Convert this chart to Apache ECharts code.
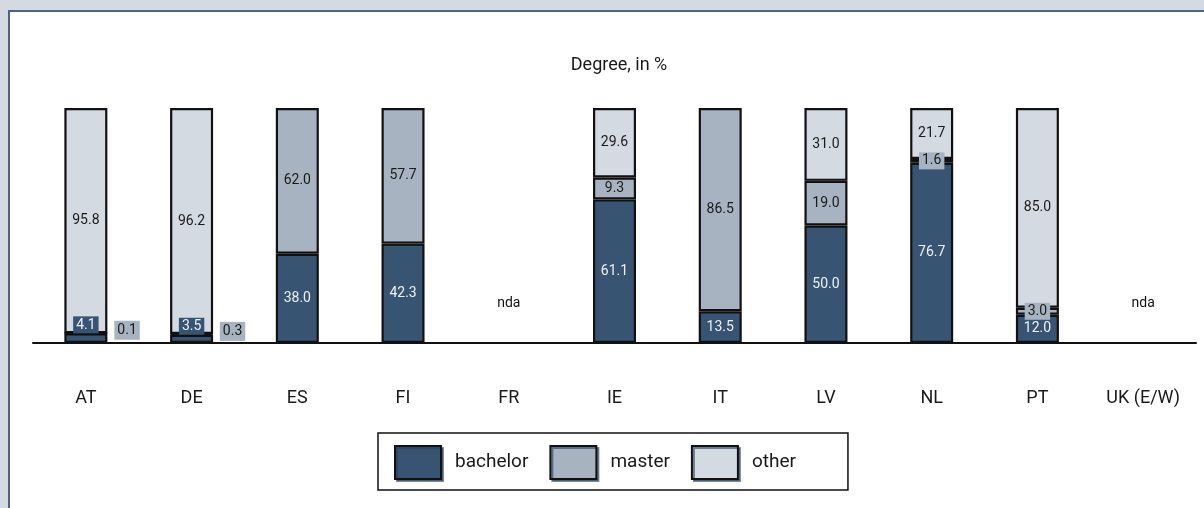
<!DOCTYPE html>
<html>
<head>
<meta charset="utf-8">
<script src="https://cdn.jsdelivr.net/npm/echarts@6/dist/echarts.min.js"></script>
<style>
  html, body { margin: 0; padding: 0; background: #d3dae2; }
  #panel { position: absolute; left: 8px; top: 10px; width: 1196px; height: 498px;
           background: #fff; border-left: 2px solid #4a6484; border-top: 2px solid #4a6484; box-sizing: border-box; }
  #chart { position: absolute; left: 0; top: 0; width: 1204px; height: 508px; }
</style>
</head>
<body>
<div id="panel"></div>
<div id="chart"></div>
<script>
const countries = ['AT', 'DE', 'ES', 'FI', 'FR', 'IE', 'IT', 'LV', 'NL', 'PT', 'UK (E/W)'];
const bachelor = [4.1, 3.5, 38.0, 42.3, null, 61.1, 13.5, 50.0, 76.7, 12.0, null];
const master   = [0.1, 0.3, 62.0, 57.7, null, 9.3, 86.5, 19.0, 1.6, 3.0, null];
const other    = [95.8, 96.2, null, null, null, 29.6, null, 31.0, 21.7, 85.0, null];
// countries without data get an "nda" note
const noData = ['FR', 'UK (E/W)'];
const ndaLevel = 16.6;

const FONT = "Roboto, 'Liberation Sans Narrow', sans-serif";
const colors = { bachelor: '#375473', master: '#a7b3c1', other: '#d3dae2' };

function barItems(values, color, kind) {
  return values.map(function (v) {
    if (v === null) return null;
    const item = { value: v };
    if (kind === 'bachelor' && v < 5) {
      item.label = { position: 'top', distance: 0, backgroundColor: color, padding: [2, 3, 1, 3] };
    } else if (kind === 'master' && v < 1) {
      item.label = { position: 'right', distance: 6, offset: [0, -3], backgroundColor: color, padding: [3, 3, 2, 3] };
    } else if (v < 5) {
      item.label = { backgroundColor: color, padding: [2, 3, 1, 3] };
    }
    return item;
  });
}

function barSeries(name, values, kind, textColor) {
  return {
    name: name,
    type: 'bar',
    stack: 'total',
    barWidth: 43,
    data: barItems(values, colors[kind], kind),
    itemStyle: { color: colors[kind], borderColor: '#111', borderWidth: 2.2 },
    label: {
      show: true,
      position: 'inside',
      color: textColor,
      fontFamily: FONT,
      fontSize: 14,
      formatter: function (p) { return p.value.toFixed(1); }
    },
    emphasis: { disabled: true }
  };
}

const chart = echarts.init(document.getElementById('chart'));
chart.setOption({
  animation: false,
  textStyle: { fontFamily: FONT },
  title: {
    text: 'Degree, in %',
    left: 614,
    textAlign: 'center',
    top: 51,
    textStyle: { fontFamily: FONT, fontSize: 18, fontWeight: 'normal', color: '#1a1a1a' }
  },
  grid: { left: 33, right: 8, top: 108, bottom: 165 },
  xAxis: {
    type: 'category',
    data: countries,
    axisLine: { lineStyle: { color: '#111', width: 2 } },
    axisTick: { length: 17, lineStyle: { color: '#111', width: 2 } },
    axisLabel: { margin: 46, fontSize: 18, color: '#1a1a1a', fontFamily: FONT }
  },
  yAxis: { type: 'value', min: 0, max: 100, show: false },
  legend: {
    data: ['bachelor', 'master', 'other'],
    left: 378,
    top: 433,
    padding: [12, 52, 10, 16],
    itemWidth: 46,
    itemHeight: 33,
    itemGap: 21,
    borderColor: '#111',
    borderWidth: 1.5,
    icon: 'rect',
    itemStyle: { shadowColor: 'rgba(40,60,90,0.6)', shadowOffsetX: 2, shadowOffsetY: 2, shadowBlur: 0 },
    textStyle: { fontFamily: FONT, fontSize: 19, color: '#1a1a1a', padding: [0, 0, 0, 9] }
  },
  series: [
    barSeries('bachelor', bachelor, 'bachelor', '#eef2f6'),
    barSeries('master', master, 'master', '#1a1a1a'),
    barSeries('other', other, 'other', '#1a1a1a'),
    {
      type: 'scatter',
      symbolSize: 1,
      silent: true,
      itemStyle: { opacity: 0 },
      data: countries.map(function (c) { return noData.indexOf(c) >= 0 ? ndaLevel : null; }),
      label: {
        show: true, position: 'inside', formatter: 'nda', opacity: 1,
        fontFamily: FONT, fontSize: 14, color: '#111'
      }
    }
  ]
});
</script>
</body>
</html>
